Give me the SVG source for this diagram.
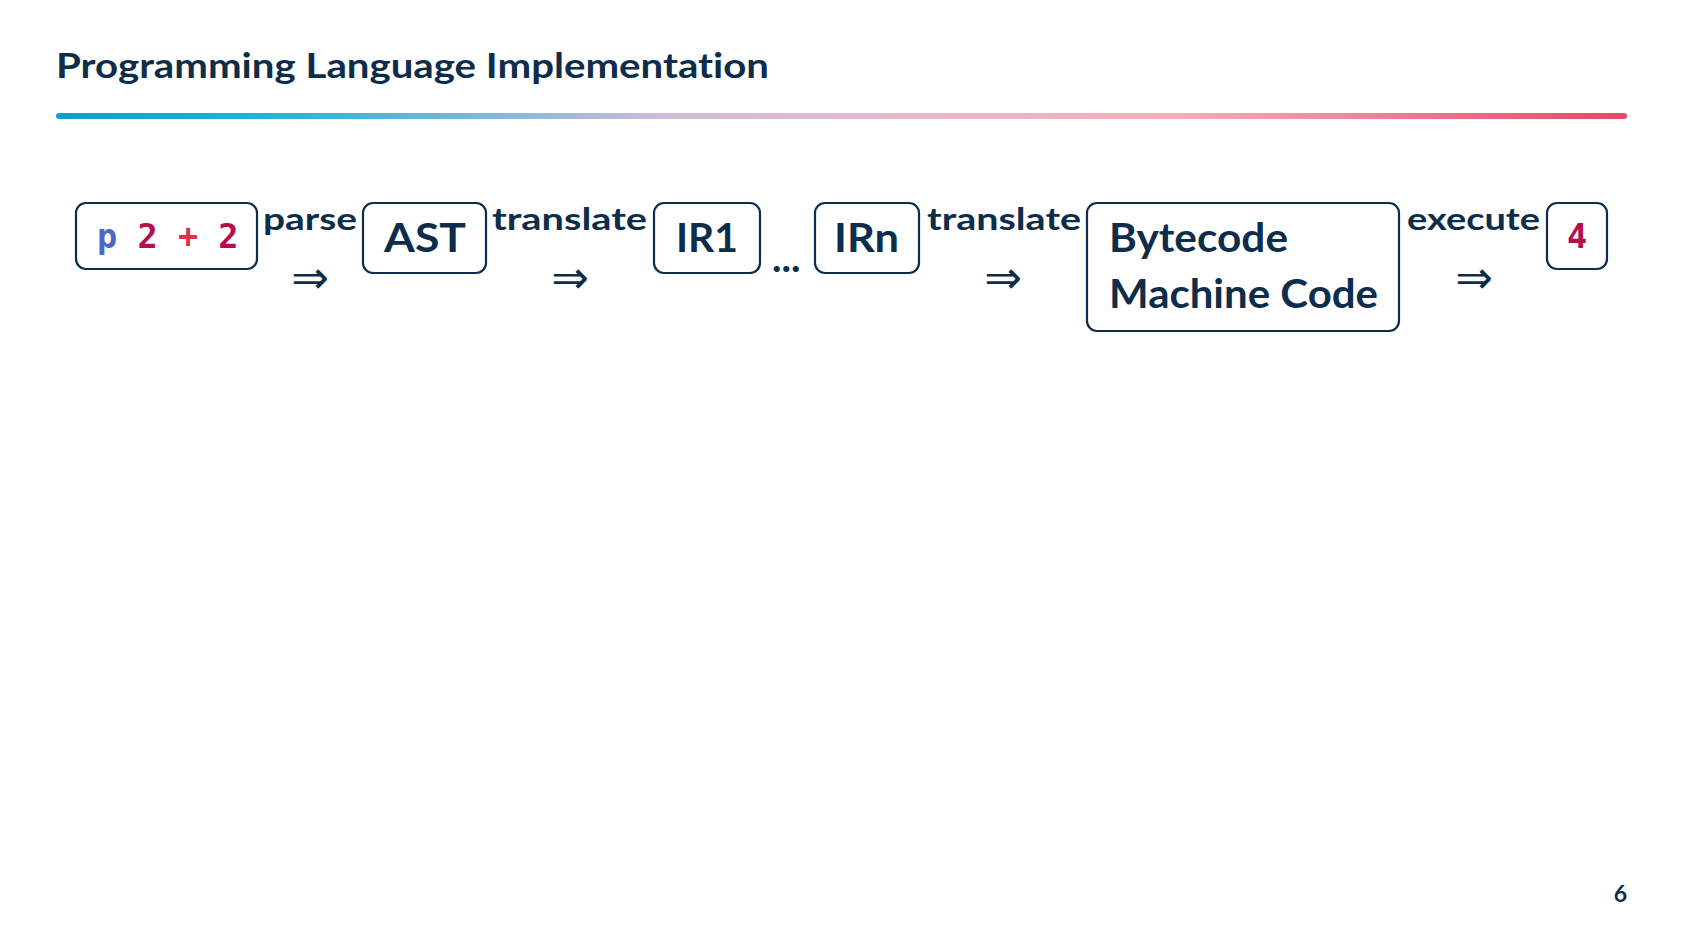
<svg xmlns="http://www.w3.org/2000/svg" width="1684" height="947" viewBox="0 0 1684 947">
<defs>
<linearGradient id="bar" x1="56" y1="0" x2="1627" y2="0" gradientUnits="userSpaceOnUse">
<stop offset="0" stop-color="#0a9fd2"/>
<stop offset="0.12" stop-color="#18b4d9"/>
<stop offset="0.245" stop-color="#6ab8d8"/>
<stop offset="0.39" stop-color="#d0bcd9"/>
<stop offset="0.54" stop-color="#e6b8cc"/>
<stop offset="0.71" stop-color="#f8aeb8"/>
<stop offset="1" stop-color="#e44868"/>
</linearGradient>
<style>
.box{fill:#ffffff;stroke:#0d2d4a;stroke-width:2.2}
.t{font-family:Lato,"Open Sans","Liberation Sans",sans-serif;font-weight:700;fill:#0d2d4a;font-variant-ligatures:none;font-feature-settings:"liga" 0}
.lbl{font-size:31px}
.big{font-size:40px}
.mono{font-family:"DejaVu Sans Mono","Liberation Mono",monospace;font-weight:700;font-size:33.6px}
.arr{font-family:"DejaVu Sans",sans-serif;font-size:45px;fill:#0d2d4a;text-anchor:middle}
.kw{fill:#4a66c8}
.num{fill:#b80d4d}
.op{fill:#d8364a}
</style>
</defs>
<rect width="1684" height="947" fill="#ffffff"/>
<text class="t" x="56" y="78" font-size="35" textLength="713" lengthAdjust="spacingAndGlyphs">Programming Language Implementation</text>
<rect x="56" y="113" width="1571" height="6" rx="3" fill="url(#bar)"/>

<g id="node-source">
<rect class="box" x="76" y="203" width="181" height="66" rx="10"/>
<text class="mono" x="97" y="248" xml:space="preserve"><tspan class="kw">p</tspan> <tspan class="num">2</tspan> <tspan class="op">+</tspan> <tspan class="num">2</tspan></text>
</g>
<g id="node-ast">
<rect class="box" x="363" y="203" width="123" height="70" rx="10"/>
<text class="t big" x="384" y="252" textLength="82" lengthAdjust="spacingAndGlyphs">AST</text>
</g>
<g id="node-ir1">
<rect class="box" x="654" y="203" width="106" height="70" rx="10"/>
<text class="t big" x="676" y="252" textLength="62" lengthAdjust="spacingAndGlyphs">IR1</text>
</g>
<g id="node-irn">
<rect class="box" x="815" y="203" width="104" height="70" rx="10"/>
<text class="t big" x="834" y="252" textLength="65" lengthAdjust="spacingAndGlyphs">IRn</text>
</g>
<g id="node-code">
<rect class="box" x="1087" y="203" width="312" height="128" rx="10"/>
<text class="t big" x="1109" y="252" textLength="179" lengthAdjust="spacingAndGlyphs">Bytecode</text>
<text class="t big" x="1109" y="308" textLength="269" lengthAdjust="spacingAndGlyphs">Machine Code</text>
</g>
<g id="node-result">
<rect class="box" x="1547" y="203" width="60" height="66" rx="10"/>
<text class="mono num" x="1577" y="248" text-anchor="middle">4</text>
</g>

<g id="connectors">
<text class="t lbl" x="263" y="230" textLength="94" lengthAdjust="spacingAndGlyphs">parse</text>
<text class="arr" x="310" y="293">⇒</text>
<text class="t lbl" x="492" y="230" textLength="155" lengthAdjust="spacingAndGlyphs">translate</text>
<text class="arr" x="570" y="293">⇒</text>
<text class="t big" x="772" y="272">...</text>
<text class="t lbl" x="927" y="230" textLength="154" lengthAdjust="spacingAndGlyphs">translate</text>
<text class="arr" x="1003" y="293">⇒</text>
<text class="t lbl" x="1407" y="230" textLength="133" lengthAdjust="spacingAndGlyphs">execute</text>
<text class="arr" x="1474" y="293">⇒</text>
</g>

<text class="t" x="1627" y="902" font-size="23" text-anchor="end">6</text>
</svg>
